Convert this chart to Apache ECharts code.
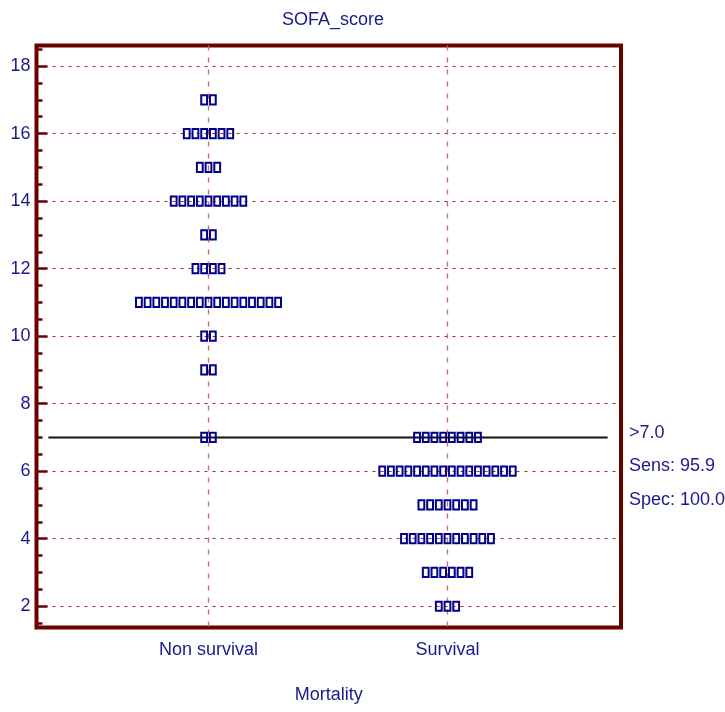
<!DOCTYPE html>
<html>
<head>
<meta charset="utf-8">
<script src="https://cdn.jsdelivr.net/npm/echarts@6/dist/echarts.min.js"></script>
<style>
  html, body { margin: 0; padding: 0; background: #fff; }
  #chart { width: 725px; height: 712px; }
</style>
</head>
<body>
<div id="chart"></div>
<script>
// Dot plot of SOFA score by mortality group, with the >7 cut-off line.
const groups = ['Non survival', 'Survival'];
const scoreLevels = [2, 3, 4, 5, 6, 7, 9, 10, 11, 12, 13, 14, 15, 16, 17];
// number of patients at each score (same order as scoreLevels)
const nonSurvivalCounts = [0, 0, 0, 0, 0, 2, 2, 2, 17, 4, 2, 9, 3, 6, 2];
const survivalCounts    = [3, 6, 11, 7, 16, 8, 0, 0, 0, 0, 0, 0, 0, 0, 0];
const yTicks = [2, 4, 6, 8, 10, 12, 14, 16, 18];
const yMinorTicks = [1.5, 2.5, 3, 3.5, 4.5, 5, 5.5, 6.5, 7, 7.5, 8.5, 9, 9.5, 10.5, 11, 11.5,
                     12.5, 13, 13.5, 14.5, 15, 15.5, 16.5, 17, 17.5, 18.5];
const cutoff = 7;

const navy = '#1a1a8c';
const frame = '#6b0000';
const font = 'Liberation Sans, Arial, sans-serif';

function rows(counts, gi) {
  return scoreLevels.map((s, i) => [gi + 1, s, counts[i]]).filter(r => r[2] > 0);
}
const dotData = rows(nonSurvivalCounts, 0).concat(rows(survivalCounts, 1));

// sensitivity / specificity of "score > cutoff" predicting non survival
const sum = a => a.reduce((p, c) => p + c, 0);
const nsAbove = sum(nonSurvivalCounts.filter((c, i) => scoreLevels[i] > cutoff));
const sAtOrBelow = sum(survivalCounts.filter((c, i) => scoreLevels[i] <= cutoff));
const sens = (100 * nsAbove / sum(nonSurvivalCounts)).toFixed(1);
const spec = (100 * sAtOrBelow / sum(survivalCounts)).toFixed(1);

const chart = echarts.init(document.getElementById('chart'));
const pitch = 8.7, boxW = 5.8, boxH = 9.2;

chart.setOption({
  animation: false,
  backgroundColor: '#fff',
  title: {
    text: 'SOFA_score', left: 328, top: 6, textAlign: 'center',
    textStyle: { color: navy, fontSize: 18, fontWeight: 'normal', fontFamily: font }
  },
  grid: {
    left: 36.5, right: 104, top: 45.5, bottom: 84.5,
    show: true, borderColor: frame, borderWidth: 4, backgroundColor: 'transparent'
  },
  xAxis: {
    type: 'value', min: 0.2803, max: 2.726,
    name: 'Mortality', nameLocation: 'middle', nameGap: 59,
    nameTextStyle: { color: navy, fontSize: 18, fontFamily: font },
    axisLine: { show: false },
    axisTick: { show: false, customValues: [1, 2] },
    axisLabel: {
      customValues: [1, 2], margin: 14, color: navy, fontSize: 18, fontFamily: font,
      formatter: v => groups[Math.round(v) - 1]
    },
    splitLine: { show: true, lineStyle: { color: '#c46a6a', type: [5, 7], width: 1.3 } }
  },
  yAxis: [{
    type: 'value', min: 1.37, max: 18.61,
    axisLine: { show: false },
    axisTick: { show: true, inside: true, length: 11, customValues: yTicks,
                lineStyle: { color: frame, width: 2.5 } },
    axisLabel: { customValues: yTicks, margin: 6, color: navy, fontSize: 18, fontFamily: font },
    splitLine: { show: true, lineStyle: { color: '#a52a2a', type: [3, 5], width: 1.2 } }
  }, {
    type: 'value', min: 1.37, max: 18.61, position: 'left',
    axisLine: { show: false },
    axisTick: { show: true, inside: true, length: 6, customValues: yMinorTicks,
                lineStyle: { color: frame, width: 2.5 } },
    axisLabel: { show: false },
    splitLine: { show: false }
  }],
  series: [{
    type: 'line',
    data: [[0.33, cutoff], [2.67, cutoff]],
    symbol: 'none',
    lineStyle: { color: '#111', width: 2 },
    z: 3
  }, {
    type: 'custom',
    data: dotData,
    z: 5,
    renderItem: (params, api) => {
      const c = api.coord([api.value(0), api.value(1)]);
      const n = api.value(2);
      const children = [];
      for (let k = 0; k < n; k++) {
        const cx = c[0] + (k - (n - 1) / 2) * pitch;
        children.push({
          type: 'rect',
          shape: { x: cx - boxW / 2, y: c[1] - boxH / 2, width: boxW, height: boxH },
          style: { fill: 'rgba(255,255,255,0)', stroke: '#00008b', lineWidth: 2 }
        });
      }
      return { type: 'group', children };
    }
  }],
  graphic: [
    { type: 'text', left: 629, top: 424, style: { text: '>' + cutoff.toFixed(1), fill: navy, fontSize: 18, fontFamily: font } },
    { type: 'text', left: 629, top: 457, style: { text: 'Sens: ' + sens, fill: navy, fontSize: 18, fontFamily: font } },
    { type: 'text', left: 629, top: 491, style: { text: 'Spec: ' + spec, fill: navy, fontSize: 18, fontFamily: font } }
  ]
});
</script>
</body>
</html>
